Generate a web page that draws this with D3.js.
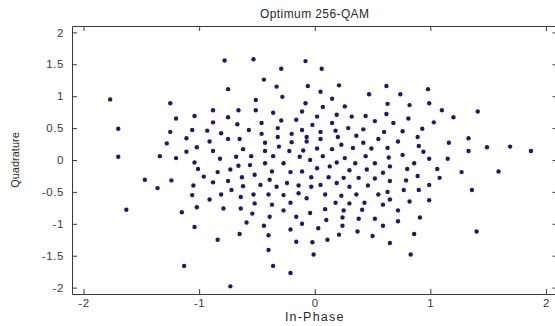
<!DOCTYPE html>
<html><head><meta charset="utf-8">
<script src="https://cdn.jsdelivr.net/npm/d3@7"></script>
<style>body{margin:0;background:#fff} svg{display:block} text{font-family:Arial,"Liberation Sans",sans-serif}</style>
</head><body><svg id="c" width="555" height="326"></svg>
<script>
const title = "Optimum 256-QAM";
const xLabel = "In-Phase";
const yLabel = "Quadrature";
const xTicks = [-2, -1, 0, 1, 2];
const yTicks = [-2, -1.5, -1, -0.5, 0, 0.5, 1, 1.5, 2];
const xDomain = [-2.1, 2.1];
const yDomain = [-2.1, 2.1];

const inPhase = [
 -0.78,-0.75,-1.77,-1.25,-0.88,-0.66,-1.04,-1.20,-0.75,-0.88,-0.67,-1.70,-1.25,-1.06,-0.93,-0.81,
 -1.11,-0.91,-0.75,-0.65,-1.28,-1.02,-0.62,-1.11,-0.88,-1.70,-1.34,-1.20,-0.82,-0.68,-1.04,-0.66,-1.01,-0.84,-0.73,-0.96,-0.63,-1.47,-1.24,-0.88,-0.75,-1.36,-1.05,-0.72,-0.62,-0.81,-1.06,-0.64,-0.91,-1.02,-0.79,-0.64,-1.63,-1.15,
 -1.04,-0.65,-0.84,-1.13,-0.73,
 -0.53,-0.08,-0.29,0.06,-0.44,-0.33,-0.06,0.21,0.62,0.05,0.47,-0.28,-0.51,0.15,-0.08,0.63,0.07,0.26,-0.51,-0.36,-0.11,0.19,0.02,0.32,0.44,0.62,-0.29,-0.16,-0.46,-0.02,0.15,0.52,-0.57,-0.32,-0.11,0.29,0.42,0.60,0.18,0.05,
 0.98,0.74,0.82,0.99,1.10,1.41,0.81,1.20,0.68,1.03,0.93,0.76,
 0.89,1.33,0.72,1.16,0.63,0.90,1.49,1.69,0.76,0.94,1.33,1.87,0.64,0.86,0.99,1.15,0.65,0.80,1.06,1.27,1.59,0.89,1.08,0.65,0.79,0.99,0.63,0.77,0.90,1.36,0.65,0.82,0.99,0.72,0.91,
 0.72,1.40,0.86,0.65,0.83,
 -0.54,-0.39,-0.16,-0.04,-0.59,-0.44,-0.11,0.10,0.24,0.38,0.52,-0.21,0.03,0.24,0.59,-0.40,0.37,0.21,0.50,-0.16,-0.02,0.11,-0.40,-0.01,-0.36,-0.21,
 -0.46,-0.20,-0.32,-0.07,0.20,0.36,0.05,0.55,-0.43,-0.20,-0.07,0.23,0.42,-0.31,0.02,0.15,0.33,0.49,-0.43,-0.22,-0.10,-0.55,-0.36,-0.13,0.07,0.26,0.44,-0.04,-0.43,-0.27,0.19,0.35,0.52,-0.56,0.02,0.13,-0.37,-0.11,0.30,0.45,-0.52,-0.21,0.59,-0.39,-0.03,0.12,0.25,0.38,0.52,-0.47,-0.24,-0.14,0.05,0.19,-0.33,-0.03,0.30,0.46,-0.53,-0.40,-0.27,-0.14,0.09,0.23,0.36,0.55,-0.07,-0.52,-0.37,-0.21,0.18,0.30,0.43,0.59,-0.27,0.09,0.25,0.41
];
const quadrature = [
 1.56,1.11,0.95,0.89,0.78,0.78,0.69,0.65,0.67,0.59,0.56,0.49,0.44,0.47,0.46,0.42,
 0.34,0.29,0.33,0.33,0.26,0.20,0.17,0.13,0.14,0.05,0.06,0.03,0.02,0.05,-0.04,-0.09,-0.14,-0.19,-0.15,-0.26,-0.27,-0.31,-0.32,-0.35,-0.33,-0.44,-0.40,-0.47,-0.41,-0.54,-0.55,-0.58,-0.62,-0.74,-0.76,-0.76,-0.78,-0.82,
 -1.05,-1.16,-1.25,-1.66,-1.98,
 1.58,1.55,1.43,1.43,1.26,1.15,1.16,1.17,1.16,1.07,1.03,0.99,0.94,0.96,0.89,0.88,0.83,0.84,0.78,0.74,0.76,0.71,0.68,0.68,0.69,0.72,0.62,0.63,0.58,0.55,0.58,0.61,0.47,0.50,0.47,0.50,0.48,0.44,0.46,0.44,
 1.11,1.03,0.86,0.89,0.78,0.76,0.65,0.67,0.58,0.59,0.49,0.45,
 0.36,0.34,0.29,0.27,0.19,0.22,0.20,0.21,0.08,0.13,0.14,0.14,0.04,-0.05,0.02,0.02,-0.10,-0.14,-0.14,-0.19,-0.18,-0.25,-0.28,-0.33,-0.32,-0.39,-0.50,-0.47,-0.47,-0.47,-0.62,-0.65,-0.63,-0.79,-0.90,
 -0.96,-1.12,-1.16,-1.30,-1.48,
 -0.84,-0.89,-0.89,-0.83,-0.98,-1.03,-1.00,-0.94,-0.90,-0.92,-0.92,-1.09,-1.07,-1.03,-1.03,-1.18,-1.12,-1.17,-1.19,-1.28,-1.29,-1.25,-1.41,-1.48,-1.66,-1.77,
 0.41,0.41,0.36,0.36,0.36,0.38,0.33,0.33,0.27,0.28,0.29,0.24,0.27,0.21,0.18,0.17,0.19,0.18,0.14,0.14,0.15,0.06,0.06,0.05,0.06,0.03,0.06,0.00,-0.05,-0.05,-0.04,-0.05,-0.05,-0.08,-0.13,-0.10,-0.18,-0.18,-0.16,-0.15,-0.23,-0.19,-0.20,-0.31,-0.27,-0.27,-0.28,-0.28,-0.29,-0.39,-0.36,-0.40,-0.39,-0.36,-0.42,-0.42,-0.42,-0.40,-0.54,-0.54,-0.55,-0.52,-0.54,-0.56,-0.54,-0.54,-0.60,-0.68,-0.70,-0.67,-0.67,-0.68,-0.67,-0.70,-0.79,-0.77,-0.79,-0.78
];

const W = 555, H = 326;
const plot = {left: 72, right: 557.5, top: 26, bottom: 294};
const svg = d3.select("#c");
svg.append("rect").attr("width", W).attr("height", H).attr("fill", "#fff");

const x = d3.scaleLinear().domain(xDomain).range([plot.left, plot.right]);
const y = d3.scaleLinear().domain(yDomain).range([plot.bottom, plot.top]);
const fmt = d => String(d);
const axisColor = "#3a3a3a";

function style(g) {
  g.selectAll(".domain").attr("stroke", axisColor).attr("stroke-width", 1);
  g.selectAll(".tick line").attr("stroke", axisColor);
  g.selectAll(".tick text").attr("fill", "#3a3a3a").attr("font-size", 11.5)
    .attr("letter-spacing", 0.6)
    .attr("font-family", "Arial, 'Liberation Sans', sans-serif");
}

svg.append("g").attr("transform", `translate(0,${plot.bottom})`)
  .call(d3.axisBottom(x).tickValues(xTicks).tickFormat(fmt).tickSizeInner(-5).tickSizeOuter(0).tickPadding(5))
  .call(style);
svg.append("g").attr("transform", `translate(0,${plot.top})`)
  .call(d3.axisTop(x).tickValues(xTicks).tickFormat("").tickSizeInner(-5).tickSizeOuter(0))
  .call(style);
svg.append("g").attr("transform", `translate(${plot.left},0)`)
  .call(d3.axisLeft(y).tickValues(yTicks).tickFormat(fmt).tickSizeInner(-5).tickSizeOuter(0).tickPadding(8))
  .call(style);
svg.append("g").attr("transform", `translate(${plot.right},0)`)
  .call(d3.axisRight(y).tickValues(yTicks).tickFormat("").tickSizeInner(-5).tickSizeOuter(0))
  .call(style);

svg.append("g").selectAll("circle").data(inPhase.map((v, i) => [v, quadrature[i]]))
  .join("circle")
  .attr("cx", d => x(d[0])).attr("cy", d => y(d[1]))
  .attr("r", 2.2).attr("fill", "#1a1a72");

svg.append("text").attr("x", x(0)).attr("y", 18).attr("text-anchor", "middle")
  .attr("font-size", 12).attr("letter-spacing", 0.4).attr("fill", "#2a2a2a").text(title);
svg.append("text").attr("x", x(0)).attr("y", 321).attr("text-anchor", "middle")
  .attr("font-size", 12.5).attr("fill", "#2a2a2a").attr("letter-spacing", 1.2).text(xLabel);
svg.append("text").attr("transform", `translate(19,${y(0)}) rotate(-90)`).attr("text-anchor", "middle")
  .attr("font-size", 11).attr("fill", "#2a2a2a").text(yLabel);
</script></body></html>
